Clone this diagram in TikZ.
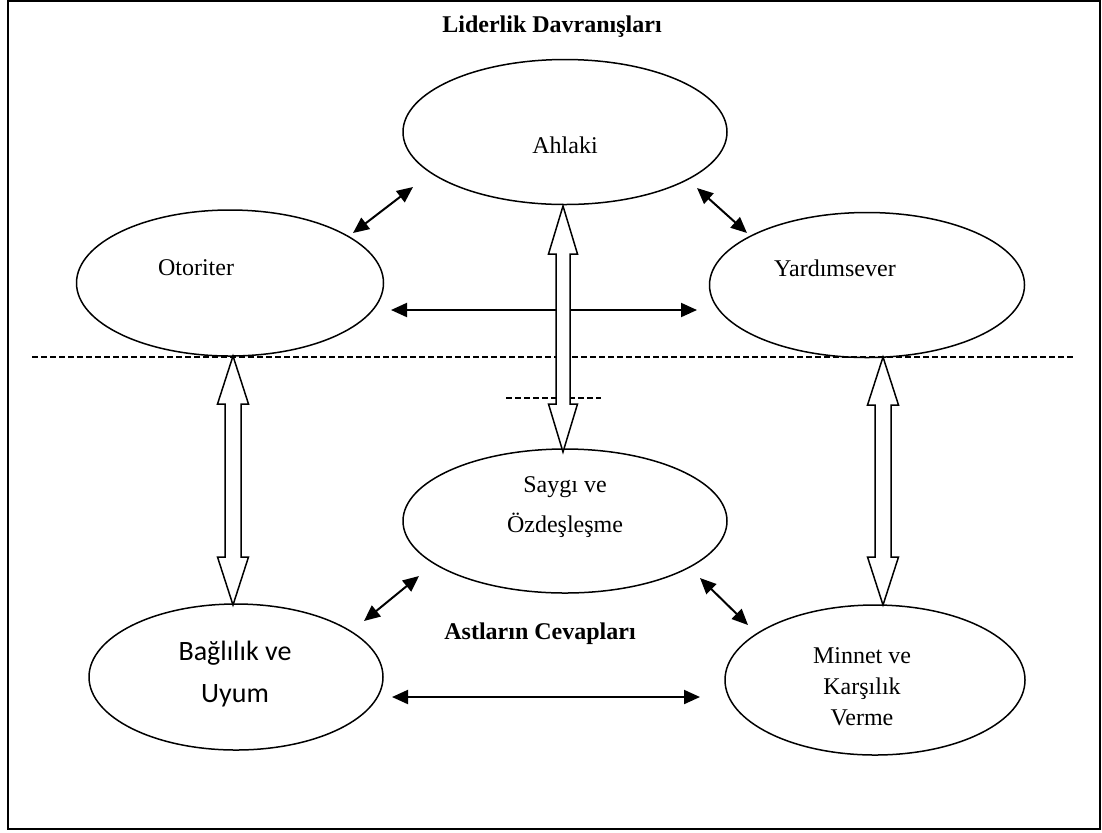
\documentclass[tikz,border=0pt]{standalone}
\usepackage{fontspec}
\setmainfont{Liberation Serif}
\newfontfamily\calib{Carlito}
\usetikzlibrary{shapes.geometric,arrows.meta,calc}
\newcommand\hollowarrow[4]{% top, bottom, shaft half, head half
  \draw[hollow] (#1) -- ($(#1)+(#4,48)$) -- ($(#1)+(#3,48)$) -- ($(#2)+(#3,-48)$)
    -- ($(#2)+(#4,-48)$) -- (#2) -- ($(#2)+(-#4,-48)$) -- ($(#2)+(-#3,-48)$)
    -- ($(#1)+(-#3,48)$) -- ($(#1)+(-#4,48)$) -- cycle;}
\begin{document}
\begin{tikzpicture}[x=0.5pt,y=-0.5pt,
  ell/.style={draw,ellipse,line width=0.75pt,inner sep=0pt},
  lbl/.style={font=\fontsize{12}{15.5}\selectfont,align=center,inner sep=0pt},
  sanslbl/.style={font=\calib\fontsize{14}{21}\selectfont,align=center,inner sep=0pt},
  ttl/.style={font=\fontsize{12}{15}\selectfont\bfseries,inner sep=0pt},
  conn/.style={line width=1pt,{Triangle[length=8pt,width=7pt]}-{Triangle[length=8pt,width=7pt]}},
  hollow/.style={draw,fill=white,line width=0.75pt,line join=miter},
  dline/.style={line width=0.7pt,dash pattern=on 3pt off 1.5pt},
  frame/.style={line width=1pt}]
\useasboundingbox (0,0) rectangle (1102,832);
\draw[frame] (8,1) rectangle (1100,829);

% ellipses
\node[ell,minimum width=162pt,minimum height=72.5pt] (ahl) at (565,132) {};
\node[ell,minimum width=153.5pt,minimum height=73pt] (oto) at (230,283) {};
\node[ell,minimum width=157.5pt,minimum height=72.5pt] (yar) at (867,285) {};
\node[ell,minimum width=162pt,minimum height=72pt] (say) at (565,521) {};
\node[ell,minimum width=147pt,minimum height=73pt] (bag) at (236,677) {};
\node[ell,minimum width=150pt,minimum height=75pt] (min) at (875,680) {};

% labels
\node[ttl] (t1) at (552,27) {Liderlik Davranışları};
\node[ttl] (t2) at (540,634) {Astların Cevapları};
\node[lbl] (lahl) at (565,145) {Ahlaki};
\node[lbl] (loto) at (196,268) {Otoriter};
\node[lbl] (lyar) at (835,268) {Yardımsever};
\node[lbl] (lsay1) at (565,487) {Saygı ve};
\node[lbl] (lsay2) at (565,525) {Özdeşleşme};
\node[sanslbl] (lbag) at (235,674) {Bağlılık ve\\Uyum};
\node[lbl] (lmin) at (862,687) {Minnet ve\\Karşılık\\Verme};

% dashed lines
\coordinate (d1a) at (32,357); \coordinate (d1b) at (1073,357);
\coordinate (d2a) at (506,398); \coordinate (d2b) at (601,398);
\draw[dline] (d1a) -- (d1b);
\draw[dline] (d2a) -- (d2b);

% connectors
\coordinate (a1) at (353,233); \coordinate (a2) at (413,187);
\coordinate (b1) at (697,188); \coordinate (b2) at (747,233);
\coordinate (c1) at (391,310); \coordinate (c2) at (697,310);
\coordinate (e1) at (364,621); \coordinate (e2) at (419,576);
\coordinate (f1) at (700,578); \coordinate (f2) at (748,625);
\coordinate (g1) at (392,697); \coordinate (g2) at (700,697);
\draw[conn] (a1) -- (a2);
\draw[conn] (b1) -- (b2);
\draw[conn] (c1) -- (c2);
\draw[conn] (e1) -- (e2);
\draw[conn] (f1) -- (f2);
\draw[conn] (g1) -- (g2);

% hollow double arrows
\coordinate (h1t) at (563,206); \coordinate (h1b) at (563,452);
\coordinate (h2t) at (233,356); \coordinate (h2b) at (233,605);
\coordinate (h3t) at (883,357); \coordinate (h3b) at (883,605);
\hollowarrow{h1t}{h1b}{7}{14.5}
\hollowarrow{h2t}{h2b}{8}{15.5}
\hollowarrow{h3t}{h3b}{8}{15.5}
\end{tikzpicture}
\end{document}
